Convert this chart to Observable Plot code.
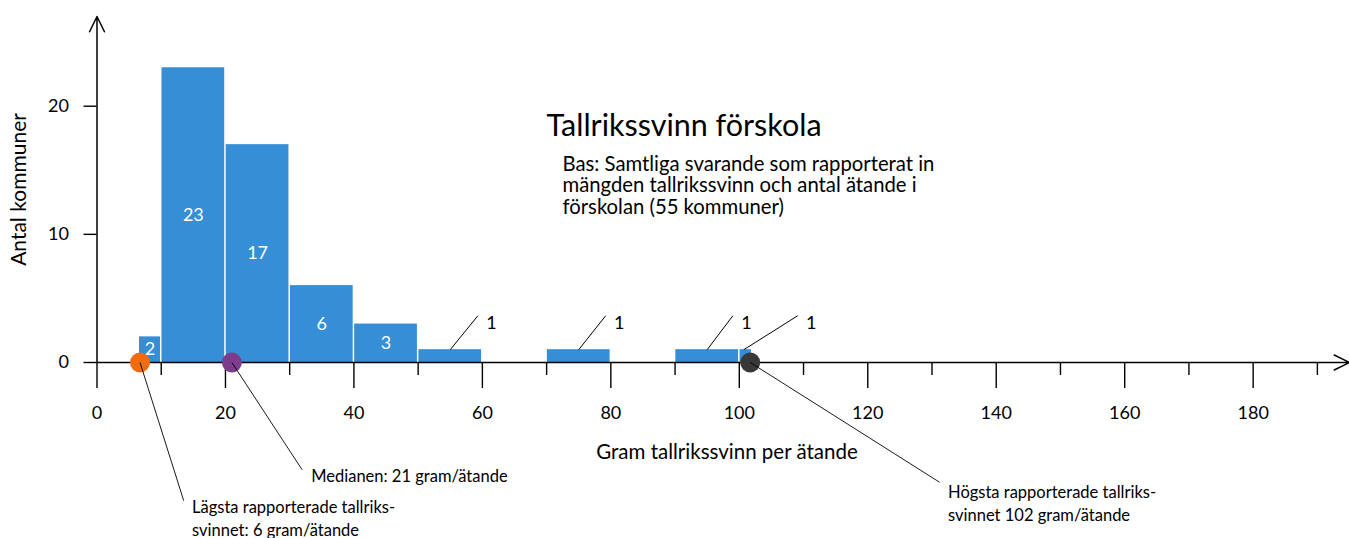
<!DOCTYPE html>
<html>
<head>
<meta charset="utf-8">
<script src="https://cdn.jsdelivr.net/npm/d3@7"></script>
<script src="https://cdn.jsdelivr.net/npm/@observablehq/plot@0.6"></script>
<style>
  html, body { margin: 0; padding: 0; background: white; }
  #chart { width: 1349px; height: 538px; }
</style>
</head>
<body>
<div id="chart"></div>
<script>
// ---- data ----
const binStart = [6.5, 10, 20, 30, 40, 50, 70, 90, 100];
const binEnd   = [10, 20, 30, 40, 50, 60, 80, 100, 102];
const counts   = [2, 23, 17, 6, 3, 1, 1, 1, 1];

const majorTicks = [0, 20, 40, 60, 80, 100, 120, 140, 160, 180];
const minorTicks = [10, 30, 50, 70, 90, 110, 130, 150, 170, 190];
const yTicks = [0, 10, 20];

// callouts for single-count bins
const calloutStartX = [55, 75, 95, 100.7];
const calloutEndX   = [59.3, 79.2, 99.0, 109.1];
const calloutEndY   = 3.65;
const calloutLabelX = [60.6, 80.5, 100.3, 110.4];
const calloutLabelY = 3.07;

// marker dots on the axis
const markerValues = [6.7, 21, 101.7];
const markerColors = ["#F26B0E", "#7D3C8C", "#383838"];
const markerLabels = [
  "Lägsta rapporterade tallriks-\nsvinnet: 6 gram/ätande",
  "Medianen: 21 gram/ätande",
  "Högsta rapporterade tallriks-\nsvinnet 102 gram/ätande"
];
const leaderEndX = [13.5, 31.95, 131.2];
const leaderEndY = [-10.78, -8.38, -9.35];
const markerLabelX = [14.8, 33.35, 132.5];
const markerLabelY = [-12.05, -8.77, -10.86];

const titleText = "Tallrikssvinn förskola";
const subtitleText = "Bas: Samtliga svarande som rapporterat in\nmängden tallrikssvinn och antal ätande i\nförskolan (55 kommuner)";
const xLabel = "Gram tallrikssvinn per ätande";
const yLabel = "Antal kommuner";

// ---- build tables ----
const bins = counts.map((c, i) => ({x1: binStart[i], x2: binEnd[i], count: c, mid: (binStart[i] + binEnd[i]) / 2}));
const insideBins = bins.filter(d => d.count > 1);
const callouts = calloutStartX.map((x, i) => ({x1: x, x2: calloutEndX[i], lx: calloutLabelX[i]}));
const markers = markerValues.map((v, i) => ({
  v, color: markerColors[i], label: markerLabels[i],
  ex: leaderEndX[i], ey: leaderEndY[i], lx: markerLabelX[i], ly: markerLabelY[i]
}));

const barColor = "#368ED6";

const chart = Plot.plot({
  width: 1349,
  height: 538,
  marginLeft: 96.5,
  marginRight: 0,
  marginTop: 16,
  marginBottom: 176,
  x: {domain: [0, 195]},
  y: {domain: [0, 27]},
  style: {fontFamily: "Lato, 'Open Sans', sans-serif", background: "white", color: "black", overflow: "visible"},
  marks: [
    Plot.rectY(bins, {x1: "x1", x2: "x2", y1: () => 0, y2: "count", fill: barColor, insetLeft: 0.75, insetRight: 0.75}),
    Plot.text(insideBins, {x: "mid", y: d => d.count / 2, text: d => String(d.count), fill: "white", fontSize: 18, lineAnchor: "middle"}),
    Plot.link(callouts, {x1: "x1", y1: () => 1, x2: "x2", y2: () => calloutEndY, stroke: "black", strokeWidth: 1}),
    Plot.text(callouts, {x: "lx", y: () => calloutLabelY, text: () => "1", textAnchor: "start", fontSize: 18, fill: "black", lineAnchor: "middle"}),
    // axes
    Plot.axisX(majorTicks, {anchor: "bottom", tickSize: 26, tickPadding: 18, fontSize: 18, label: null, strokeWidth: 1.4, tickFormat: d => String(d)}),
    Plot.axisX(minorTicks, {anchor: "bottom", tickSize: 13, tickFormat: () => "", label: null, strokeWidth: 1.4}),
    Plot.axisY(yTicks, {anchor: "left", tickSize: 13, tickPadding: 15, fontSize: 18, label: null, strokeWidth: 1.4}),
    Plot.arrow([0], {x1: d => d, y1: () => 0, x2: () => 195, y2: () => 0, stroke: "black", strokeWidth: 1.5, headLength: 17, headAngle: 52}),
    Plot.arrow([0], {x1: d => d, y1: () => 0, x2: () => 0, y2: () => 27, stroke: "black", strokeWidth: 1.5, headLength: 17, headAngle: 52}),
    // markers
    Plot.dot(markers, {x: "v", y: () => 0, r: 10, fill: "color", stroke: "none"}),
    Plot.link(markers, {x1: "v", y1: () => 0, x2: "ex", y2: "ey", stroke: "black", strokeWidth: 0.9}),
    Plot.text(markers, {x: "lx", y: "ly", text: "label", textAnchor: "start", lineAnchor: "middle", fontSize: 16.5, lineHeight: 1.4, fill: "black"}),
    // titles
    Plot.text([titleText], {frameAnchor: "top-left", dx: 449.5, dy: 110, textAnchor: "start", lineAnchor: "middle", fontSize: 30.5, fill: "black"}),
    Plot.text([subtitleText], {frameAnchor: "top-left", dx: 465.5, dy: 169, textAnchor: "start", lineAnchor: "middle", fontSize: 20.3, lineHeight: 1.07, fill: "black"}),
    Plot.text([xLabel], {frameAnchor: "bottom", dx: 3.75, dy: 90, textAnchor: "middle", lineAnchor: "middle", fontSize: 20.5, fill: "black"}),
    Plot.text([yLabel], {frameAnchor: "left", dx: -78, rotate: -90, textAnchor: "middle", lineAnchor: "middle", fontSize: 21, fill: "black"})
  ]
});
document.getElementById("chart").appendChild(chart);
</script>
</body>
</html>
